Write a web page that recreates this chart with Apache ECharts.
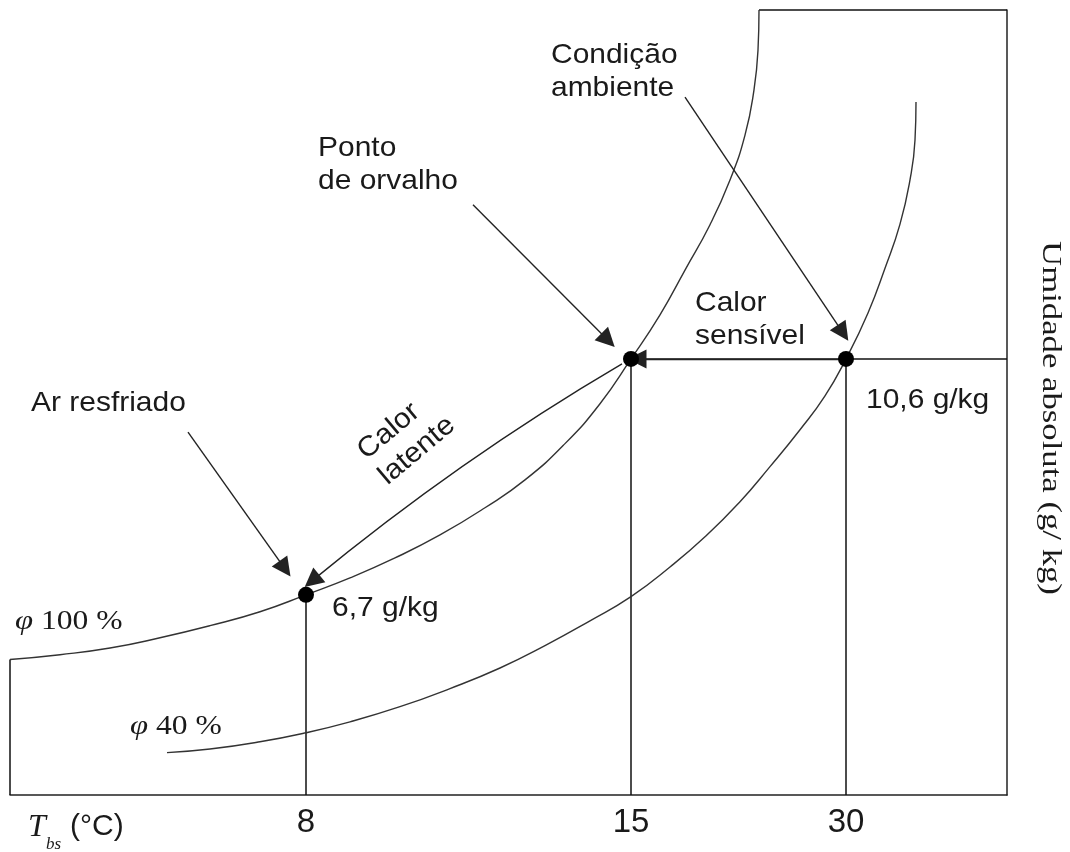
<!DOCTYPE html>
<html><head><meta charset="utf-8">
<script src="https://cdn.jsdelivr.net/npm/echarts@6/dist/echarts.min.js"></script>
<style>html,body{margin:0;padding:0;background:#fff}#c{width:1070px;height:852px}</style>
</head><body><div id="c"></div>
<script>
// Schematic temperature axis: ticks placed at schematic positions (0..997)
const tickLabels = ['8', '15', '30'];
const tickPos = [296, 621, 836];
// Humidity axis range (g/kg)
const humMin = 3.39, humMax = 16.37;
// State points: cooled air, dew point, ambient condition
const stateX = [296, 621, 836];
const stateHum = [6.7, 10.6, 10.6];
// Saturation curve (phi 100 %)
const curve100X = [0, 50, 100, 150, 200, 250, 296, 340, 385, 430, 475, 515, 555, 590, 621, 650, 675, 700, 720, 735, 744, 748, 749];
const curve100Y = [5.63, 5.71, 5.82, 5.99, 6.19, 6.42, 6.70, 6.98, 7.31, 7.69, 8.14, 8.60, 9.20, 9.86, 10.60, 11.33, 12.07, 12.82, 13.56, 14.30, 15.05, 15.71, 16.37];
// Relative humidity curve phi 40 %
const curve40X = [157, 200, 250, 296, 340, 390, 440, 490, 535, 580, 621, 660, 695, 730, 760, 790, 815, 836, 858, 875, 890, 900, 905, 906];
const curve40Y = [4.09, 4.15, 4.27, 4.42, 4.60, 4.85, 5.15, 5.49, 5.86, 6.27, 6.67, 7.16, 7.66, 8.24, 8.82, 9.43, 9.99, 10.60, 11.36, 12.10, 12.83, 13.56, 14.22, 14.85];
// Annotation arrows [from, to]
const arrowAr = [[178, 9.39], [275, 7.13]];
const arrowOrvalho = [[463, 13.15], [598, 10.91]];
const arrowAmbiente = [[675, 14.93], [833, 11.03]];
const arrowLatente = [[612, 10.52], [302, 6.93]];
const arrowSensivel = [[836, 10.6], [627, 10.6]];

const zip = (xs, ys) => xs.map((x, i) => [x, ys[i]]);
const SANS = "'Liberation Sans', Arial, sans-serif";
const SERIF = "'Liberation Serif', 'Times New Roman', serif";
const INK = '#1a1a1a';

const chart = echarts.init(document.getElementById('c'), null, { renderer: 'canvas' });

function sansText(text, x, y, extra) {
  return Object.assign({
    type: 'text', x: x, y: y, scaleX: 1.07, z: 20,
    style: { text: text, fill: INK, fontFamily: SANS, fontSize: 28, align: 'left', verticalAlign: 'middle', lineHeight: 33 }
  }, extra || {});
}

const option = {
  animation: false,
  backgroundColor: '#ffffff',
  grid: { left: 10, right: 63, top: 10, bottom: 57 },
  xAxis: {
    type: 'value', min: 0, max: 997,
    axisLine: { show: true, onZero: false, lineStyle: { color: '#222', width: 1.5 } },
    axisTick: { show: false },
    splitLine: { show: false },
    axisLabel: {
      customValues: tickPos,
      formatter: v => tickLabels[tickPos.indexOf(v)],
      fontFamily: SANS, fontSize: 33, color: INK, margin: 11
    }
  },
  yAxis: {
    type: 'value', min: humMin, max: humMax, position: 'right',
    axisLine: { show: true, onZero: false, lineStyle: { color: '#222', width: 1.5 } },
    axisTick: { show: false }, axisLabel: { show: false }, splitLine: { show: false }
  },
  series: [
    {
      type: 'line', name: 'φ 100 %', data: zip(curve100X, curve100Y),
      smooth: 0.5, symbol: 'none', clip: false,
      lineStyle: { color: '#333', width: 1.4 }, z: 3
    },
    {
      type: 'line', name: 'φ 40 %', data: zip(curve40X, curve40Y),
      smooth: 0.5, symbol: 'none', clip: false,
      lineStyle: { color: '#333', width: 1.4 }, z: 3
    },
    {
      type: 'lines', coordinateSystem: 'cartesian2d', silent: true, clip: false,
      symbol: 'none', lineStyle: { color: '#111', width: 1.5, opacity: 1 }, z: 2,
      data: [
        { coords: [[0, curve100Y[0]], [0, humMin]] },
        { coords: [[curve100X[curve100X.length - 1], humMax], [997, humMax]] },
        { coords: [[stateX[0], stateHum[0]], [stateX[0], humMin]] },
        { coords: [[stateX[1], stateHum[1]], [stateX[1], humMin]] },
        { coords: [[stateX[2], stateHum[2]], [stateX[2], humMin]] },
        { coords: [[stateX[1], stateHum[1]], [997, stateHum[1]]] }
      ]
    },
    {
      type: 'lines', coordinateSystem: 'cartesian2d', silent: true, clip: false,
      symbol: ['none', 'triangle'], symbolSize: [12, 19], symbolOffset: [0, 9],
      lineStyle: { color: '#222', width: 1.4, opacity: 1 }, z: 4,
      data: [
        { coords: arrowAr },
        { coords: arrowOrvalho },
        { coords: arrowAmbiente },
        { coords: arrowLatente, lineStyle: { curveness: -0.04 } },
        { coords: arrowSensivel }
      ]
    },
    {
      type: 'scatter', data: zip(stateX, stateHum), symbolSize: 16,
      itemStyle: { color: '#000', opacity: 1 }, z: 10, clip: false
    }
  ],
  graphic: [
    sansText('Condição\nambiente', 551, 72),
    sansText('Ponto\nde orvalho', 318, 165),
    sansText('Calor\nsensível', 695, 320),
    sansText('Ar resfriado', 31, 403),
    sansText('6,7 g/kg', 332, 608),
    sansText('10,6 g/kg', 866, 400),
    sansText('Calor\nlatente', 372, 467, { rotation: 0.70 }),
    {
      type: 'text', x: 15, y: 622, scaleX: 1.17, z: 20,
      style: {
        text: '{p|φ} 100 %', fill: INK, fontFamily: SERIF, fontSize: 27, align: 'left', verticalAlign: 'middle',
        rich: { p: { fontStyle: 'italic', fontFamily: SERIF, fontSize: 28, fill: INK } }
      }
    },
    {
      type: 'text', x: 130, y: 727, scaleX: 1.17, z: 20,
      style: {
        text: '{p|φ} 40 %', fill: INK, fontFamily: SERIF, fontSize: 27, align: 'left', verticalAlign: 'middle',
        rich: { p: { fontStyle: 'italic', fontFamily: SERIF, fontSize: 28, fill: INK } }
      }
    },
    {
      type: 'text', x: 1050, y: 418, rotation: -Math.PI / 2, scaleX: 1.24, z: 20,
      style: { text: 'Umidade absoluta (g/ kg)', fill: INK, fontFamily: SERIF, fontSize: 28, align: 'center', verticalAlign: 'middle' }
    },
    {
      type: 'text', x: 28, y: 828, z: 20,
      style: { text: 'T', fill: INK, fontFamily: SERIF, fontStyle: 'italic', fontSize: 32, align: 'left', verticalAlign: 'middle' }
    },
    {
      type: 'text', x: 46, y: 845, z: 20,
      style: { text: 'bs', fill: INK, fontFamily: SERIF, fontStyle: 'italic', fontSize: 17, align: 'left', verticalAlign: 'middle' }
    },
    {
      type: 'text', x: 70, y: 827, z: 20,
      style: { text: '(°C)', fill: INK, fontFamily: SANS, fontSize: 30, align: 'left', verticalAlign: 'middle' }
    }
  ]
};
chart.setOption(option);
</script>
</body></html>
